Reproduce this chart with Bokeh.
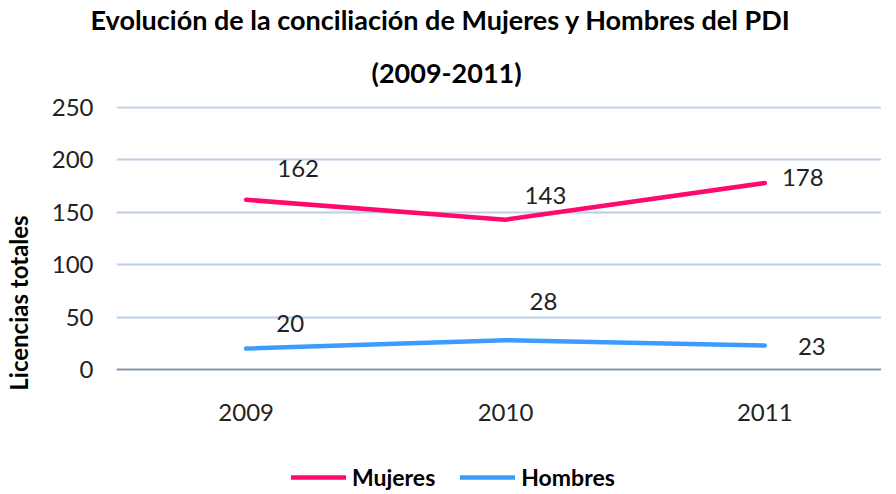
from bokeh.plotting import figure
from bokeh.models import ColumnDataSource, Title, Legend, LegendItem, FixedTicker, LabelSet
from bokeh.core.properties import value
from bokeh.embed import file_html
from bokeh.resources import INLINE

years = [2009, 2010, 2011]
mujeres = [162, 143, 178]
hombres = [20, 28, 23]
title_line1 = "Evolución de la conciliación de Mujeres y Hombres del PDI"
title_line2 = "(2009-2011)"
y_label = "Licencias totales"
y_ticks = [0, 50, 100, 150, 200, 250]

FONT = "Lato"
C_M = "#ff0a6c"
C_H = "#3c9bff"

# frame extends below zero so the legend can sit inside it, under the axis
p = figure(frame_width=765, frame_height=393, output_backend="svg", toolbar_location=None,
           x_range=(2008.5, 2011.45), y_range=(-124, 251),
           min_border_left=115, min_border_right=0, min_border_top=0, min_border_bottom=0)
p.outline_line_color = None
p.background_fill_color = "white"

title_kw = dict(align="left", vertical_align="top", text_font=FONT, text_font_size="27px",
                text_font_style="bold", text_color="#000000", text_line_height=1.0)
t2 = Title(text=title_line2, offset=255, standoff=32, **title_kw)
t1 = Title(text=title_line1, offset=-26, standoff=4, **title_kw)
# first added = nearest the frame
p.add_layout(t2, "above")
p.add_layout(t1, "above")

src_m = ColumnDataSource(dict(x=years, y=mujeres, t=[str(v) for v in mujeres],
                              dx=[52, 40, 38], dy=[31, 24, 6]))
src_h = ColumnDataSource(dict(x=years, y=hombres, t=[str(v) for v in hombres],
                              dx=[44, 38, 47], dy=[25, 39, -1]))

rm = p.line("x", "y", source=src_m, line_color=C_M, line_width=4.5, line_cap="round", line_join="round")
rh = p.line("x", "y", source=src_h, line_color=C_H, line_width=4.5, line_cap="round", line_join="round")

for s in (src_m, src_h):
    p.add_layout(LabelSet(x="x", y="y", text="t", source=s, x_offset="dx", y_offset="dy",
                          text_align="center", text_baseline="middle", text_font=value(FONT),
                          text_font_size="24px", text_color="#222222"))

p.xaxis.fixed_location = 0
p.xaxis.ticker = FixedTicker(ticks=years)
p.xaxis.major_tick_line_color = None
p.xaxis.minor_tick_line_color = None
p.xaxis.axis_line_color = "#8c8c8c"
p.xaxis.axis_line_width = 1.5
p.xaxis.major_label_text_font = FONT
p.xaxis.major_label_text_font_size = "24px"
p.xaxis.major_label_text_color = "#222222"
p.xaxis.major_label_standoff = 28

p.yaxis.ticker = FixedTicker(ticks=y_ticks)
p.yaxis.major_tick_line_color = None
p.yaxis.minor_tick_line_color = None
p.yaxis.axis_line_color = None
p.yaxis.major_label_text_font = FONT
p.yaxis.major_label_text_font_size = "24px"
p.yaxis.major_label_text_color = "#222222"
p.yaxis.major_label_standoff = 17
p.yaxis.axis_label = y_label
p.yaxis.axis_label_text_font = FONT
p.yaxis.axis_label_text_font_size = "24px"
p.yaxis.axis_label_text_font_style = "bold"
p.yaxis.axis_label_text_color = "#000000"
p.yaxis.axis_label_standoff = 16

p.xgrid.grid_line_color = None
p.ygrid.ticker = FixedTicker(ticks=y_ticks)
p.ygrid.grid_line_color = "#bccfe8"
p.ygrid.grid_line_width = 2

legend = Legend(items=[LegendItem(label="Mujeres", renderers=[rm]),
                       LegendItem(label="Hombres", renderers=[rh])],
                orientation="horizontal", location=(175, 8),
                label_text_font=FONT, label_text_font_size="23px", label_text_font_style="bold",
                label_text_color="#000000", glyph_width=55, glyph_height=20, spacing=25,
                label_standoff=6, border_line_color=None, background_fill_alpha=0,
                margin=0, padding=0)
p.add_layout(legend, "center")

open("out.html", "w").write(file_html(p, INLINE))
